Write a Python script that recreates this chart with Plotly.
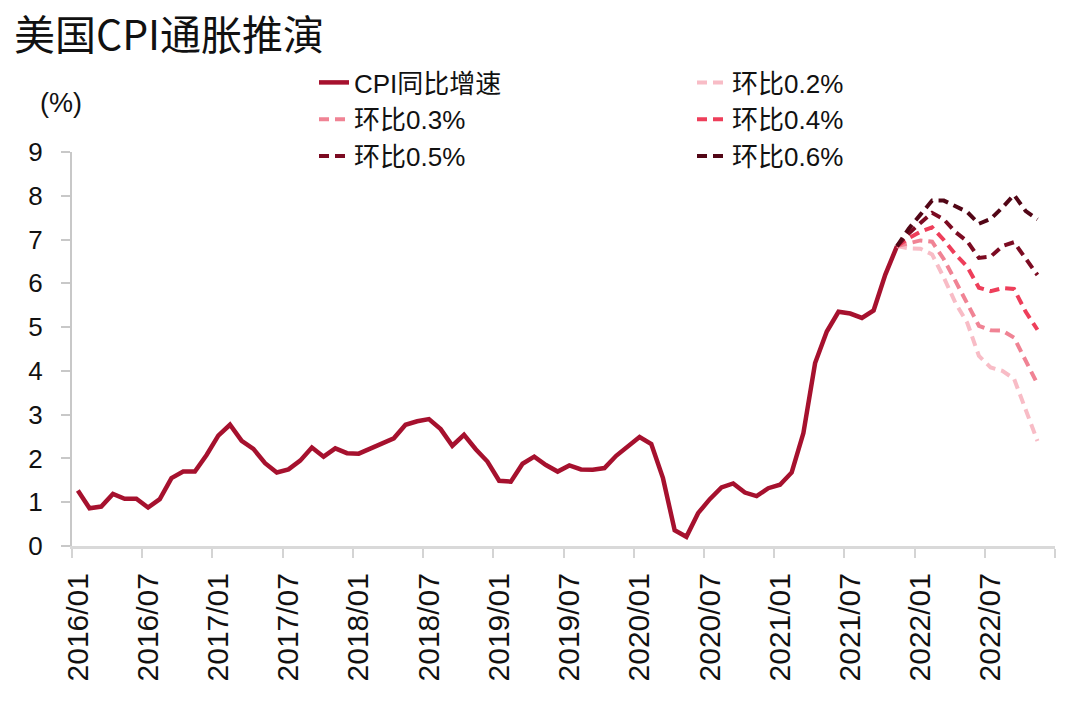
import plotly.graph_objects as go

# ---------------- data ----------------
years = [2016, 2017, 2018, 2019, 2020, 2021, 2022]
months = [f"{y}/{m:02d}" for y in years for m in range(1, 13)]

tick_labels = ["2016/01", "2016/07", "2017/01", "2017/07", "2018/01", "2018/07",
               "2019/01", "2019/07", "2020/01", "2020/07", "2021/01", "2021/07",
               "2022/01", "2022/07"]

# CPI YoY, 2016/01 - 2021/11
cpi_yoy = [
    1.27, 0.86, 0.90, 1.19, 1.08, 1.08, 0.88, 1.07, 1.55, 1.70, 1.70, 2.08,
    2.52, 2.77, 2.40, 2.22, 1.89, 1.68, 1.75, 1.95, 2.25, 2.04, 2.23, 2.12,
    2.11, 2.23, 2.36, 2.46, 2.77, 2.85, 2.90, 2.67, 2.29, 2.54, 2.21, 1.93,
    1.49, 1.47, 1.88, 2.04, 1.85, 1.70, 1.84, 1.75, 1.74, 1.78, 2.06, 2.27,
    2.49, 2.33, 1.55, 0.36, 0.21, 0.75, 1.07, 1.34, 1.43, 1.22, 1.14, 1.32,
    1.40, 1.68, 2.58, 4.18, 4.90, 5.35, 5.31, 5.21, 5.38, 6.20, 6.85,
]

# scenario paths, 2021/11 - 2022/11
forecast_start = "2021/11"
mom_02 = [6.85, 6.80, 6.79, 6.66, 6.13, 5.55, 5.10, 4.34, 4.08, 4.00, 3.82, 3.10, 2.40]
mom_03 = [6.85, 6.92, 6.98, 6.95, 6.55, 6.05, 5.55, 5.03, 4.93, 4.92, 4.76, 4.24, 3.70]
mom_04 = [6.85, 7.03, 7.18, 7.28, 6.99, 6.66, 6.38, 5.90, 5.82, 5.89, 5.87, 5.35, 4.94]
mom_05 = [6.85, 7.14, 7.38, 7.61, 7.46, 7.17, 6.96, 6.58, 6.61, 6.85, 6.94, 6.55, 6.19]
mom_06 = [6.85, 7.25, 7.57, 7.89, 7.89, 7.77, 7.63, 7.36, 7.47, 7.73, 8.02, 7.65, 7.46]

series_names = ["环比0.2%", "环比0.3%", "环比0.4%", "环比0.5%", "环比0.6%"]
series_values = [mom_02, mom_03, mom_04, mom_05, mom_06]
series_colors = ["#f8bcc6", "#f08394", "#ee3e5a", "#7c0b22", "#520616"]

cpi_name = "CPI同比增速"
cpi_color = "#a6112e"

# ---------------- figure ----------------
cpi_x = list(range(len(cpi_yoy)))
f0 = months.index(forecast_start)

fig = go.Figure()
fig.add_trace(go.Scatter(
    x=cpi_x, y=cpi_yoy, mode="lines", name=cpi_name,
    line=dict(color=cpi_color, width=4.5),
))
for name, vals, col in zip(series_names, series_values, series_colors):
    fig.add_trace(go.Scatter(
        x=list(range(f0, f0 + len(vals))), y=vals, mode="lines", name=name,
        line=dict(color=col, width=4, dash="10px,6px"),
    ))

tickvals = [months.index(t) for t in tick_labels]
boundary_ticks = [v - 0.5 for v in tickvals] + [len(months) - 0.5]

latin = "Liberation Sans, Arial, Noto Sans CJK SC, sans-serif"
axis_grey = "#c8c8c8"

# page body has an 8px default margin, so the figure is sized to fit the window
W, H = 1072, 709
fig.update_layout(
    width=W, height=H,
    margin=dict(l=64, r=25, t=144, b=171, autoexpand=False),
    paper_bgcolor="white", plot_bgcolor="white",
    showlegend=True,
    title=dict(
        text="美国CPI通胀推演",
        font=dict(family="Noto Sans CJK SC", size=41, color="#111111"),
        x=6 / W, xanchor="left", xref="container",
        y=1 - 28 / H, yanchor="middle", yref="container",
    ),
    legend=dict(
        orientation="h",
        x=(314 - 72) / 983, xanchor="left",
        y=(546 - 59) / 394, yanchor="top",
        entrywidth=333, entrywidthmode="pixels",
        font=dict(family=latin, size=26, color="#111111"),
        bgcolor="rgba(0,0,0,0)",
        itemwidth=30,
    ),
    xaxis=dict(
        range=[-0.5, len(months) - 0.5],
        tickmode="array", tickvals=tickvals, ticktext=tick_labels,
        tickangle=-90, ticks="",
        tickfont=dict(family=latin, size=30, color="#111111"),
        showgrid=False, zeroline=False, automargin=False,
        showline=True, linecolor="#d9d9d9", linewidth=3,
        minor=dict(tickmode="array", tickvals=boundary_ticks, ticks="outside",
                   ticklen=9, tickwidth=2, tickcolor="#d4d4d4", showgrid=False),
        ticklabelstandoff=12,
        fixedrange=True,
    ),
    yaxis=dict(
        range=[0, 9], dtick=1, tick0=0,
        ticks="outside", ticklen=9, tickwidth=2, tickcolor=axis_grey,
        tickfont=dict(family=latin, size=26, color="#111111"),
        showgrid=False, zeroline=False, automargin=False,
        showline=True, linecolor=axis_grey, linewidth=2,
        ticklabelstandoff=13,
        fixedrange=True,
    ),
    annotations=[dict(
        text="(%)", xref="paper", yref="paper",
        x=(61 - 72) / 983, y=(546 - 103) / 394,
        xanchor="center", yanchor="middle",
        showarrow=False,
        font=dict(family=latin, size=27, color="#111111"),
    )],
)

fig.write_html("out.html")
